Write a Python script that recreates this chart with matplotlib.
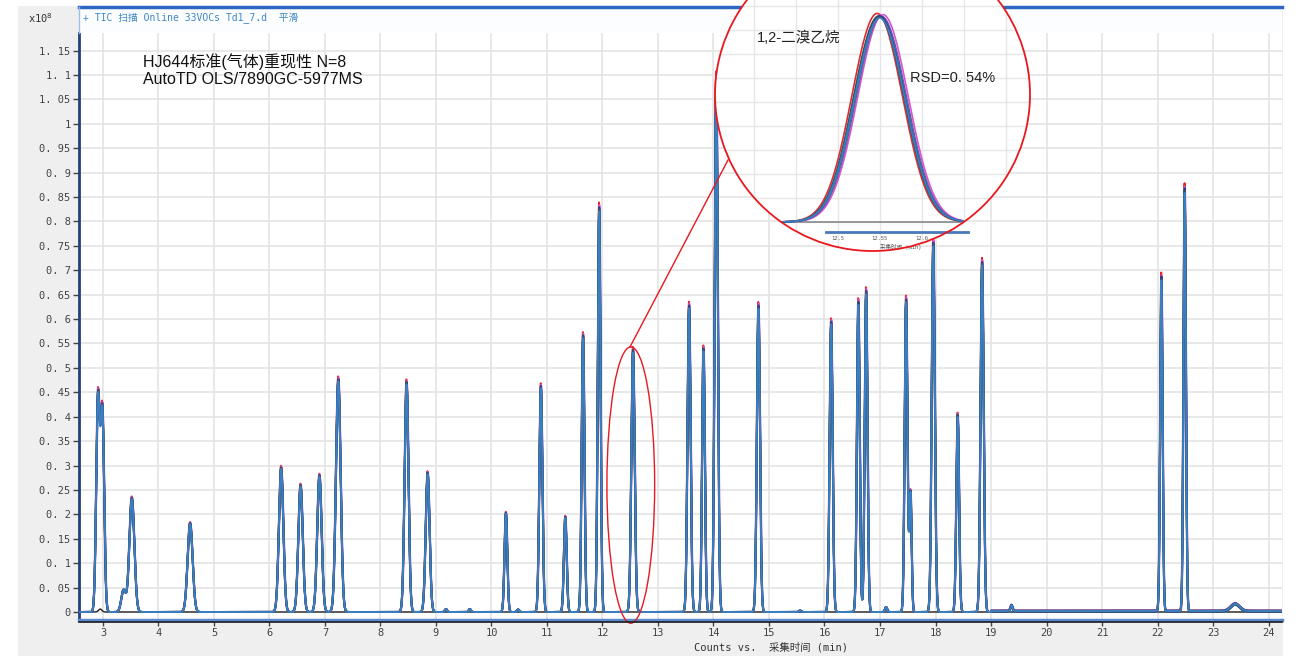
import numpy as np
import matplotlib
matplotlib.use("Agg")
import matplotlib.pyplot as plt
from matplotlib.patches import Ellipse, Rectangle
from matplotlib.lines import Line2D

W, H = 1302, 656

# peaks: retention time (min), height (x10^8), width sigma (min)
peak_rt = [2.91, 2.99, 3.37, 3.52, 4.57, 6.21, 6.56, 6.90, 7.24, 8.47, 8.85, 9.18, 9.61,
           10.26, 10.48, 10.89, 11.33, 11.65, 11.94, 12.55, 13.56, 13.82, 14.05, 14.81,
           15.56, 16.12, 16.61, 16.75, 17.11, 17.47, 17.55, 17.96, 18.40, 18.84, 19.37,
           22.07, 22.49, 23.40]
peak_height = [0.435, 0.405, 0.045, 0.234, 0.182, 0.296, 0.26, 0.28, 0.477, 0.471, 0.285, 0.006, 0.006,
               0.203, 0.005, 0.463, 0.195, 0.567, 0.829, 0.537, 0.628, 0.54, 1.095, 0.628,
               0.003, 0.595, 0.636, 0.658, 0.01, 0.641, 0.245, 0.757, 0.404, 0.717, 0.012,
               0.685, 0.866, 0.015]
peak_sigma = [0.032, 0.032, 0.04, 0.045, 0.045, 0.04, 0.04, 0.04, 0.042, 0.035, 0.035, 0.02, 0.02,
              0.025, 0.02, 0.028, 0.025, 0.025, 0.025, 0.03, 0.028, 0.025, 0.028, 0.028,
              0.02, 0.027, 0.025, 0.025, 0.02, 0.025, 0.02, 0.028, 0.025, 0.028, 0.02,
              0.022, 0.022, 0.08]

# eight repeat injections
run_colors = ['#e8282e', '#d655d0', '#8a3fb0', '#3aa04a', '#2a8c9a', '#2b3990', '#3c4a6e', '#3a7fc0']
run_scale = [1.012, 1.006, 0.998, 1.0, 0.995, 1.0, 0.997, 0.99]
run_shift = [-0.003, 0.004, 0.002, -0.001, 0.001, 0.0, -0.001, 0.0]
run_late_offset = [0.003, 0.0, 0.002, 0.0, 0.0, 0.003, 0.0, 0.002]

# blank run
blank_rt = [2.95]
blank_height = [0.006]
blank_sigma = [0.03]

yticks = [round(0.05 * i, 2) for i in range(24)]
xticks = list(range(3, 25))


def trace(t, rts, hs, ss, scale=1.0, shift=0.0):
    y = np.zeros_like(t)
    for rt, h, s in zip(rts, hs, ss):
        y += h * scale * np.exp(-(t - rt - shift) ** 2 / (2 * s ** 2))
    return y


def fx(px):
    return px / W


def fy(py):
    return 1 - py / H


fig = plt.figure(figsize=(W / 100, H / 100), dpi=100, facecolor='white')
mono = ['DejaVu Sans Mono', 'Noto Sans CJK SC']
sans = ['Liberation Sans', 'Noto Sans CJK SC']

# grey panel behind the plot
fig.patches.append(Rectangle((fx(18), 0), fx(1265), fy(6), transform=fig.transFigure,
                             facecolor='#efefef', edgecolor='none', zorder=-1))

ax = fig.add_axes([fx(79), fy(620), fx(1282 - 79), (620 - 33) / H])
ax.set_facecolor('white')

t = np.arange(2.55, 24.26, 0.003)
ax.plot(t, trace(t, blank_rt, blank_height, blank_sigma), color='#222222', lw=1.0, zorder=2)
for c, sc, sh, off in zip(run_colors, run_scale, run_shift, run_late_offset):
    y = trace(t, peak_rt, peak_height, peak_sigma, sc, sh) + np.where(t > 19.0, off, 0.0)
    ax.plot(t, y, color=c, lw=1.4, zorder=3)

ax.set_xlim(2.568, 24.243)
ax.set_ylim(-0.0164, 1.186)
ax.set_xticks(xticks)
ax.set_yticks(yticks)
ax.set_yticklabels([('%.2f' % v).rstrip('0').rstrip('.').replace('.', '. ') for v in yticks])
ax.grid(True, color='#e4e4e4', lw=1.2, zorder=0)
ax.set_axisbelow(True)
ax.tick_params(axis='both', direction='out', length=4, width=1, color='#444444',
               labelsize=7.5, labelcolor='#444444', pad=2)
for lab in ax.get_xticklabels() + ax.get_yticklabels():
    lab.set_family(mono)
for side in ['top', 'right']:
    ax.spines[side].set_visible(False)
ax.spines['left'].set_color('#24417a')
ax.spines['left'].set_linewidth(2)
ax.spines['bottom'].set_color('#5a8bd0')
ax.spines['bottom'].set_linewidth(2.5)
fig.lines.append(Line2D([fx(79), fx(1282)], [fy(622), fy(622)], transform=fig.transFigure,
                        color='#1c1c1c', lw=1.2))

# header strip
fig.patches.append(Rectangle((fx(79), fy(33)), fx(1282 - 79), (33 - 7) / H, transform=fig.transFigure,
                             facecolor='#fcfdfe', edgecolor='none', zorder=1))
fig.lines.append(Line2D([fx(79), fx(1282)], [fy(7), fy(7)], transform=fig.transFigure,
                        color='#2f66c2', lw=2.5, zorder=1.5))
fig.lines.append(Line2D([fx(79), fx(79)], [fy(7), fy(33)], transform=fig.transFigure,
                        color='#9ec0e8', lw=1, zorder=1.5))
fig.text(fx(83), fy(18), '+ TIC 扫描 Online 33VOCs Td1_7.d  平滑', family=mono, fontsize=7,
         color='#3d86c6', va='center', ha='left')
fig.text(fx(28), fy(18), 'x10$^{8}$', family=mono, fontsize=7.5, color='#333333', va='center', ha='left')
fig.text(fx(771), fy(647), 'Counts vs.  采集时间 (min)', family=mono, fontsize=7.5,
         color='#333333', va='center', ha='center')

fig.text(fx(143), fy(62), 'HJ644标准(气体)重现性 N=8', family=sans, fontsize=11.5,
         color='#111111', va='center', ha='left')
fig.text(fx(143), fy(79), 'AutoTD OLS/7890GC-5977MS', family=sans, fontsize=11.5,
         color='#111111', va='center', ha='left')

# red ellipse around the 12.55 min peak and the pointer line
ax.add_patch(Ellipse((12.51, 0.26), 0.86, 0.566, facecolor='none', edgecolor='#e8181e',
                     lw=1.0, clip_on=False, zorder=6))
fig.lines.append(Line2D([fx(630), fx(728)], [fy(347), fy(160)], transform=fig.transFigure,
                        color='#e8181e', lw=1.0, zorder=2))

# magnified inset inside a circle
ax_in = fig.add_axes([fx(715), fy(251), fx(1030 - 715), (251 + 62) / H])
ax_in.set_zorder(3)
ax_in.patch.set_visible(False)
ax_in.set_xlim(12.354, 12.729)
ax_in.set_ylim(-0.0756, 0.740)
ax_in.axis('off')
circ = Ellipse((0.5, 0.5), 1, 1, transform=ax_in.transAxes, facecolor='white', edgecolor='none', zorder=0)
ax_in.add_patch(circ)
for gx in np.arange(12.35, 12.75, 0.05):
    ln = ax_in.axvline(gx, color='#e6e6e6', lw=1, zorder=1)
    ln.set_clip_path(circ)
for gy in np.arange(0.0, 0.75, 0.0625):
    ln = ax_in.axhline(gy, color='#e6e6e6', lw=1, zorder=1)
    ln.set_clip_path(circ)
t_in = np.arange(12.434, 12.649, 0.0005)
for c, sc, sh in zip(run_colors, run_scale, run_shift):
    ln, = ax_in.plot(t_in, trace(t_in, peak_rt, peak_height, peak_sigma, sc, sh), color=c, lw=1.2, zorder=3)
    ln.set_clip_path(circ)
ax_in.plot([12.434, 12.649], [0, 0], color='#888888', lw=1.2, zorder=2)
ax_in.plot([12.486, 12.655], [-0.026, -0.026], color='#4a78b8', lw=2, zorder=2)
for tx in [12.5, 12.55, 12.6]:
    ax_in.text(tx, -0.042, str(tx), fontsize=4, color='#555555', ha='center', va='center', family=mono)
ax_in.text(12.575, -0.065, '采集时间 (min)', fontsize=4, color='#555555', ha='center', va='center', family=mono)
ax_in.add_patch(Ellipse((0.5, 0.5), 1, 1, transform=ax_in.transAxes, facecolor='none',
                        edgecolor='#e8181e', lw=1.3, zorder=5, clip_on=False))

fig.text(fx(757), fy(38), '1,2-二溴乙烷', family=sans, fontsize=10.5, color='#222222',
         va='center', ha='left', zorder=6)
fig.text(fx(910), fy(78), 'RSD=0. 54%', family=sans, fontsize=10.5, color='#222222',
         va='center', ha='left', zorder=6)

fig.savefig('out.png', dpi=100, facecolor=fig.get_facecolor())
